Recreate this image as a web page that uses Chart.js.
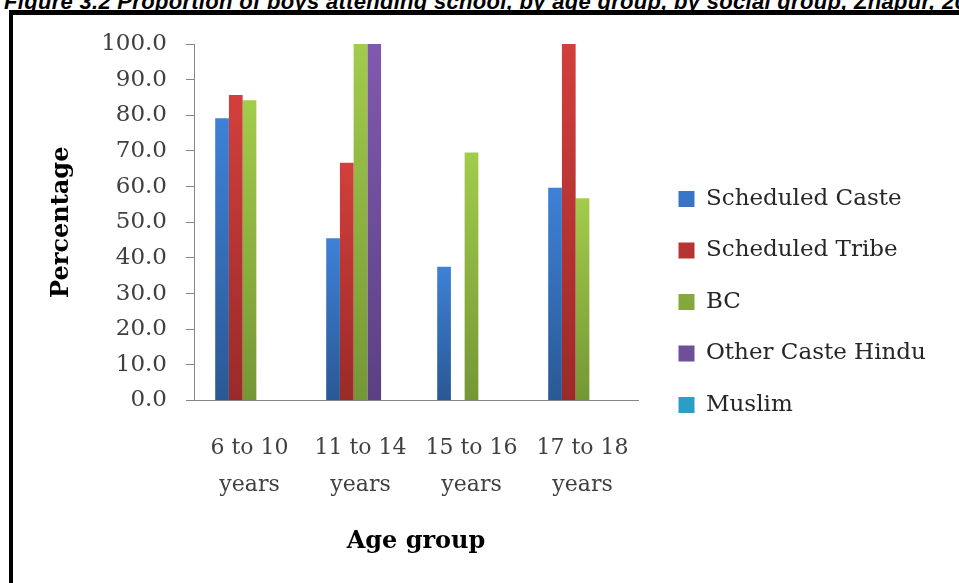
<!DOCTYPE html>
<html>
<head>
<meta charset="utf-8">
<script src="https://cdn.jsdelivr.net/npm/chart.js@4.4.1/dist/chart.umd.min.js"></script>
<style>
  html, body { margin: 0; padding: 0; background: #fff; overflow: hidden; width: 959px; height: 583px; position: relative; }
  #caption { position: absolute; left: 4px; top: -11px; line-height: 22px; white-space: nowrap;
             font: italic bold 22px "Liberation Sans", Arial, sans-serif; letter-spacing: 0.3px; color: #000; }
  #frame { position: absolute; left: 9px; top: 10px; width: 2000px; height: 2000px;
           border-left: 4px solid #000; border-top: 5px solid #000; }
  #chart { position: absolute; left: 0; top: 0; }
</style>
</head>
<body>
<div id="caption">Figure 3.2 Proportion of boys attending school, by age group, by social group, Znapur, 20</div>
<div id="frame"></div>
<canvas id="chart" width="959" height="583"></canvas>
<script>
// Age groups on the x axis (two-line labels)
const categories = [["6 to 10", "years"], ["11 to 14", "years"], ["15 to 16", "years"], ["17 to 18", "years"]];

// Social groups
const seriesNames = ["Scheduled Caste", "Scheduled Tribe", "BC", "Other Caste Hindu", "Muslim"];

// Percentage of boys attending school, per age group
const scheduledCaste  = [79.2, 45.5, 37.5, 59.7];
const scheduledTribe  = [85.7, 66.7, 0, 100];
const backwardClass   = [84.2, 100, 69.6, 56.7];
const otherCasteHindu = [0, 100, 0, 0];
const muslim          = [0, 0, 0, 0];

// Value axis
const yMin = 0, yMax = 100, yStep = 10;

// Bar shading: lighter top, darker base; flat key colour for the legend
const barTop  = ["#3E81D7", "#D23F3C", "#A2CC4B", "#8159AF", "#33B2DA"];
const barBase = ["#2A5894", "#9A2A28", "#749735", "#5B4083", "#23809D"];
const keyFill = ["#3A76C3", "#C0393A", "#8DB43E", "#6F4E9A", "#2A9EC4"];

const SERIF = "'DejaVu Serif', 'Liberation Serif', serif";
const W = 959;
const PLOT_LEFT = 194, PLOT_TOP = 44, PLOT_RIGHT = 638, PLOT_BOTTOM = 400.5;
const BOTTOM_PAD = 23;
const LEGEND_FONT = 23, LEGEND_BOX = 16, LEGEND_PAD = 28.5, LEGEND_SHIFT = 12;

// Width the legend will claim, so the plot keeps its right edge
const mctx = document.createElement('canvas').getContext('2d');
mctx.font = LEGEND_FONT + "px " + SERIF;
const widestName = Math.max(...seriesNames.map(n => mctx.measureText(n).width));
const legendWidth = LEGEND_PAD + LEGEND_BOX + LEGEND_FONT / 2 + widestName + 10;
const rightPad = Math.max(0, W - PLOT_RIGHT - legendWidth);

function barFill(i) {
  return (c) => {
    if (c.type !== 'data') return keyFill[i];
    const y = c.chart.scales.y;
    if (!y) return keyFill[i];
    const t = y.getPixelForValue(c.raw), b = y.getPixelForValue(0);
    if (!isFinite(t) || !isFinite(b) || Math.abs(b - t) < 1) return keyFill[i];
    const g = c.chart.ctx.createLinearGradient(0, t, 0, b);
    g.addColorStop(0, barTop[i]);
    g.addColorStop(1, barBase[i]);
    return g;
  };
}

const seriesValues = [scheduledCaste, scheduledTribe, backwardClass, otherCasteHindu, muslim];
const datasets = seriesNames.map((name, i) => ({
  label: name,
  data: seriesValues[i],
  backgroundColor: barFill(i),
  borderWidth: 0,
  categoryPercentage: 0.618,
  barPercentage: 1
}));

// Moves the legend a little away from the plot area
const legendNudge = {
  id: 'legendNudge',
  afterLayout(chart) {
    const l = chart.legend;
    if (l) { l.left += LEGEND_SHIFT; l.right += LEGEND_SHIFT; }
  }
};

new Chart(document.getElementById('chart'), {
  type: 'bar',
  data: { labels: categories, datasets },
  plugins: [legendNudge],
  options: {
    responsive: false,
    animation: false,
    devicePixelRatio: 1,
    layout: { padding: { left: 0, top: PLOT_TOP, right: rightPad, bottom: BOTTOM_PAD } },
    plugins: {
      tooltip: { enabled: false },
      legend: {
        position: 'right',
        align: 'center',
        maxWidth: 400,
        labels: {
          boxWidth: LEGEND_BOX, boxHeight: LEGEND_BOX, padding: LEGEND_PAD,
          color: '#262626', font: { family: SERIF, size: LEGEND_FONT }
        }
      }
    },
    scales: {
      x: {
        grid: { display: false, drawTicks: false },
        border: { color: '#868686', width: 1 },
        ticks: {
          color: '#404040', padding: 29, maxRotation: 0, autoSkip: false,
          font: { family: SERIF, size: 22, lineHeight: 37 / 22 }
        },
        title: {
          display: true, text: 'Age group', color: '#000',
          font: { family: SERIF, size: 24, weight: 'bold', lineHeight: 1.2 },
          padding: { top: 0, bottom: 3.5 }
        },
        afterFit(s) { s.height = 583 - BOTTOM_PAD - PLOT_BOTTOM; }
      },
      y: {
        min: yMin, max: yMax,
        grid: { drawOnChartArea: false, tickLength: 8, color: '#868686' },
        border: { color: '#868686', width: 1 },
        ticks: {
          stepSize: yStep, color: '#404040', padding: 19,
          font: { family: SERIF, size: 23 },
          callback: v => Number(v).toFixed(1)
        },
        title: {
          display: true, text: 'Percentage', color: '#000',
          font: { family: SERIF, size: 24, weight: 'bold', lineHeight: 1.2 },
          padding: { top: 47.6, bottom: 0 }
        },
        afterFit(s) { s.width = PLOT_LEFT; }
      }
    }
  }
});
</script>
</body>
</html>
